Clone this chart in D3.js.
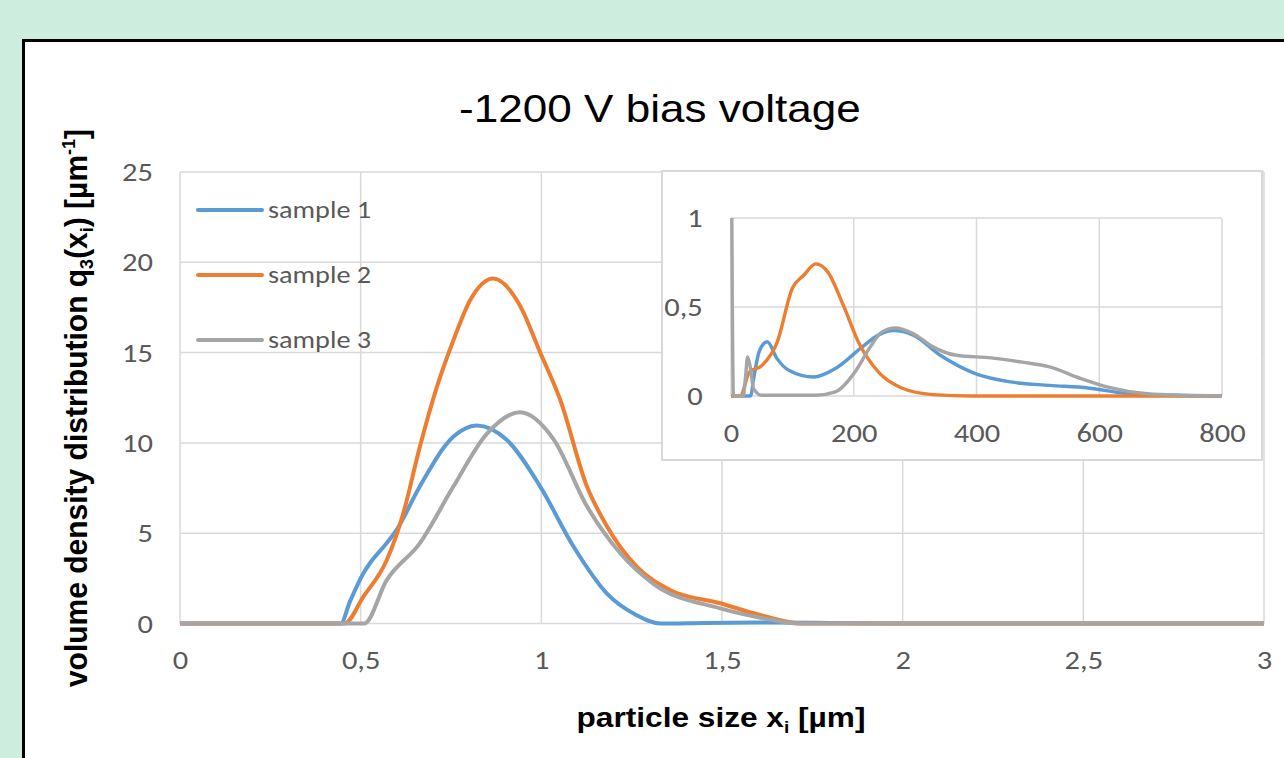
<!DOCTYPE html>
<html>
<head>
<meta charset="utf-8">
<script src="https://cdn.jsdelivr.net/npm/d3@7"></script>
<style>
  html, body { margin: 0; padding: 0; background: #cdeedf; }
  svg { display: block; }
  .tick text { font-family: Carlito, Calibri, Lato, sans-serif; fill: #595959; }
</style>
</head>
<body>
<div id="chart"></div>
<script>
// main chart: particle size [µm] vs q3 [µm^-1]
const s1Size = [0, 0.2, 0.445, 0.47, 0.508, 0.526, 0.572, 0.6, 0.664, 0.757, 0.821, 0.904, 0.997, 1.089, 1.181, 1.26, 1.33, 1.45, 1.6, 1.8, 2.0, 2.5, 3];
const s1Q3   = [0, 0, 0, 1.2, 2.8, 3.35, 4.45, 5.2, 7.6, 10.35, 10.96, 10.17, 7.58, 4.26, 1.67, 0.5, 0, 0.03, 0.05, 0.03, 0, 0, 0];
const s2Size = [0, 0.2, 0.455, 0.508, 0.572, 0.618, 0.664, 0.711, 0.757, 0.803, 0.867, 0.941, 0.997, 1.052, 1.126, 1.181, 1.264, 1.356, 1.495, 1.6, 1.72, 2, 2.5, 3];
const s2Q3   = [0, 0, 0, 1.5, 3.5, 6.1, 9.8, 13.1, 15.7, 17.9, 19.1, 17.6, 15.0, 12.4, 7.6, 5.4, 3.15, 1.86, 1.12, 0.5, 0, 0, 0, 0];
const s3Size = [0, 0.2, 0.51, 0.572, 0.664, 0.757, 0.849, 0.941, 1.034, 1.126, 1.218, 1.31, 1.495, 1.6, 1.72, 2, 2.5, 3];
const s3Q3   = [0, 0, 0, 2.4, 4.45, 7.6, 10.5, 11.7, 10.2, 6.5, 3.9, 2.2, 0.84, 0.35, 0, 0, 0, 0];

// inset: particle size [nm]
const in1Size = [0, 32, 37, 46, 59, 75, 94, 135, 170, 214, 240, 265, 297, 341, 398, 456, 519, 582, 646, 709, 800];
const in1Q3   = [0, 0, 0.1, 0.25, 0.305, 0.21, 0.145, 0.107, 0.154, 0.276, 0.342, 0.367, 0.342, 0.229, 0.126, 0.079, 0.06, 0.045, 0.013, 0.004, 0];
const in2Size = [0, 15, 30, 50, 75, 100, 119, 138, 157, 183, 208, 240, 278, 329, 392, 800];
const in2Q3   = [0, 0, 0.135, 0.17, 0.30, 0.605, 0.68, 0.742, 0.70, 0.51, 0.30, 0.135, 0.045, 0.008, 0, 0];
const in3Size = [0, 4, 20, 24, 27, 31, 37, 50, 138, 170, 202, 227, 246, 268, 297, 329, 367, 424, 475, 519, 570, 614, 678, 741, 800];
const in3Q3   = [2, 0, 0, 0.12, 0.22, 0.17, 0.04, 0.004, 0.004, 0.023, 0.135, 0.276, 0.36, 0.383, 0.35, 0.276, 0.229, 0.214, 0.19, 0.164, 0.098, 0.05, 0.013, 0.004, 0];

const sampleNames = ["sample 1", "sample 2", "sample 3"];
const colors = ["#5b9bd5", "#ed7d31", "#a5a5a5"];
const mainXTicks = [0, 0.5, 1, 1.5, 2, 2.5, 3];
const mainYTicks = [0, 5, 10, 15, 20, 25];
const insetXTicks = [0, 200, 400, 600, 800];
const insetYTicks = [0, 0.5, 1];

const SX = 1.13; // the reference text is slightly stretched sideways
const comma = d => String(d).replace(".", ",");
const zip = (xs, ys) => xs.map((x, i) => ({ x: x, y: ys[i] }));

const W = 1284, H = 758;
const svg = d3.select("#chart").append("svg")
  .attr("width", W)
  .attr("height", H);

// white panel with black border
svg.append("rect")
  .attr("x", 23.5).attr("y", 40.5)
  .attr("width", 1300).attr("height", 800)
  .attr("fill", "#fff")
  .attr("stroke", "#000")
  .attr("stroke-width", 3);

// title
svg.append("text")
  .attr("transform", `translate(660,121.5) scale(${SX},1)`)
  .attr("text-anchor", "middle")
  .style("font-family", "'Liberation Sans', Arial, sans-serif")
  .style("font-size", "39px")
  .style("fill", "#000")
  .text("-1200 V bias voltage");

// ---------- main plot ----------
const x = d3.scaleLinear().domain([0, 3]).range([180, 1264]);
const y = d3.scaleLinear().domain([0, 25]).range([623.5, 172]);

const grid = svg.append("g").attr("stroke", "#d9d9d9").attr("stroke-width", 1.5);
grid.selectAll(".gx").data(mainXTicks).enter().append("line")
  .attr("x1", d => x(d)).attr("x2", d => x(d))
  .attr("y1", y(0)).attr("y2", y(25));
grid.selectAll(".gy").data(mainYTicks).enter().append("line")
  .attr("x1", x(0)).attr("x2", x(3))
  .attr("y1", d => y(d)).attr("y2", d => y(d));

const xAxis = svg.append("g")
  .attr("transform", `translate(0,${y(0)})`)
  .call(d3.axisBottom(x).tickValues(mainXTicks).tickSize(0).tickPadding(26).tickFormat(comma));
const yAxis = svg.append("g")
  .attr("transform", `translate(${x(0)},0)`)
  .call(d3.axisLeft(y).tickValues(mainYTicks).tickSize(0).tickPadding(24).tickFormat(comma));
[xAxis, yAxis].forEach(a => {
  a.select(".domain").remove();
  a.selectAll("text").style("font-size", "27px").attr("transform", `scale(${SX},1)`);
});

const line = d3.line()
  .x(d => x(d.x))
  .y(d => y(d.y))
  .curve(d3.curveMonotoneX);

const mainSeries = [zip(s1Size, s1Q3), zip(s2Size, s2Q3), zip(s3Size, s3Q3)];
svg.append("g").selectAll("path").data(mainSeries).enter().append("path")
  .attr("d", line)
  .attr("fill", "none")
  .attr("stroke", (d, i) => colors[i])
  .attr("stroke-width", 4)
  .attr("stroke-linejoin", "round");

// legend
const legend = svg.append("g").selectAll("g").data(sampleNames).enter().append("g")
  .attr("transform", (d, i) => `translate(198,${210 + i * 65})`);
legend.append("line")
  .attr("x1", 0).attr("x2", 64)
  .attr("stroke", (d, i) => colors[i])
  .attr("stroke-width", 4)
  .attr("stroke-linecap", "round");
legend.append("text")
  .attr("transform", `translate(70,8) scale(${SX},1)`)
  .style("font-family", "Carlito, Calibri, Lato, sans-serif")
  .style("font-size", "25px")
  .style("fill", "#595959")
  .text(d => d);

// axis titles
const xTitle = svg.append("text")
  .attr("transform", `translate(721,727) scale(${SX},1)`)
  .attr("text-anchor", "middle")
  .style("font-family", "'Liberation Sans', Arial, sans-serif")
  .style("font-weight", "bold")
  .style("font-size", "28px")
  .style("fill", "#000");
xTitle.append("tspan").text("particle size x");
xTitle.append("tspan").attr("dy", 6).style("font-size", "17px").text("i");
xTitle.append("tspan").attr("dy", -6).text(" [µm]");

const yTitle = svg.append("text")
  .attr("transform", `translate(87,408) scale(1.04,1) rotate(-90)`)
  .attr("text-anchor", "middle")
  .style("font-family", "'Liberation Sans', Arial, sans-serif")
  .style("font-weight", "bold")
  .style("font-size", "30px")
  .style("fill", "#000");
yTitle.append("tspan").text("volume density distribution q");
yTitle.append("tspan").attr("dy", 6).style("font-size", "18px").text("3");
yTitle.append("tspan").attr("dy", -6).text("(x");
yTitle.append("tspan").attr("dy", 6).style("font-size", "18px").text("i");
yTitle.append("tspan").attr("dy", -6).text(") [µm");
yTitle.append("tspan").attr("dy", -12).style("font-size", "18px").text("-1");
yTitle.append("tspan").attr("dy", 12).text("]");

// ---------- inset ----------
svg.append("rect")
  .attr("x", 662).attr("y", 171)
  .attr("width", 600).attr("height", 289)
  .attr("fill", "#fff")
  .attr("stroke", "#d9d9d9")
  .attr("stroke-width", 2);

const ix = d3.scaleLinear().domain([0, 800]).range([731, 1222]);
const iy = d3.scaleLinear().domain([0, 1]).range([396, 218]);

const igrid = svg.append("g").attr("stroke", "#d9d9d9").attr("stroke-width", 1.5);
igrid.selectAll(".gx").data(insetXTicks).enter().append("line")
  .attr("x1", d => ix(d)).attr("x2", d => ix(d))
  .attr("y1", iy(0)).attr("y2", iy(1));
igrid.selectAll(".gy").data(insetYTicks).enter().append("line")
  .attr("x1", ix(0)).attr("x2", ix(800))
  .attr("y1", d => iy(d)).attr("y2", d => iy(d));

const ixAxis = svg.append("g")
  .attr("transform", `translate(0,${iy(0)})`)
  .call(d3.axisBottom(ix).tickValues(insetXTicks).tickSize(0).tickPadding(27).tickFormat(comma));
const iyAxis = svg.append("g")
  .attr("transform", `translate(${ix(0)},0)`)
  .call(d3.axisLeft(iy).tickValues(insetYTicks).tickSize(0).tickPadding(25).tickFormat(comma));
[ixAxis, iyAxis].forEach(a => {
  a.select(".domain").remove();
  a.selectAll("text").style("font-size", "27px").attr("transform", `scale(${SX},1)`);
});

svg.append("clipPath").attr("id", "inset-clip")
  .append("rect")
  .attr("x", ix(0) - 3).attr("y", iy(1))
  .attr("width", ix(800) - ix(0) + 6).attr("height", iy(0) - iy(1) + 4);

const iline = d3.line()
  .x(d => ix(d.x))
  .y(d => iy(d.y))
  .curve(d3.curveMonotoneX);

const insetSeries = [zip(in1Size, in1Q3), zip(in2Size, in2Q3), zip(in3Size, in3Q3)];
svg.append("g").attr("clip-path", "url(#inset-clip)")
  .selectAll("path").data(insetSeries).enter().append("path")
  .attr("d", iline)
  .attr("fill", "none")
  .attr("stroke", (d, i) => colors[i])
  .attr("stroke-width", 3.4)
  .attr("stroke-linejoin", "round");
</script>
</body>
</html>
